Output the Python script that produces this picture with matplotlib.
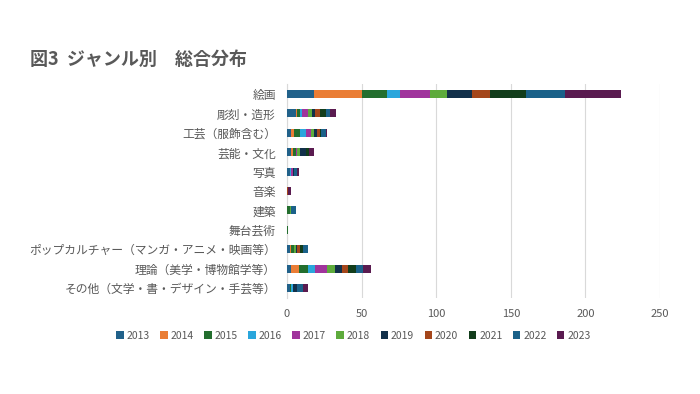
import matplotlib
matplotlib.use("Agg")
import matplotlib.pyplot as plt
import numpy as np

plt.rcParams['font.family'] = ['Noto Sans CJK JP', 'DejaVu Sans']

categories = ["絵画", "彫刻・造形", "工芸（服飾含む）", "芸能・文化", "写真", "音楽", "建築",
              "舞台芸術", "ポップカルチャー（マンガ・アニメ・映画等）", "理論（美学・博物館学等）",
              "その他（文学・書・デザイン・手芸等）"]
years = ["2013", "2014", "2015", "2016", "2017", "2018", "2019", "2020", "2021", "2022", "2023"]

# values per year, in category order
v2013 = [18, 6, 3, 3, 2, 0, 0, 0, 2, 3, 2]
v2014 = [32, 1, 2, 1, 0, 0, 0, 0, 1, 5, 0]
v2015 = [17, 2, 4, 2, 0, 0, 2, 1, 2, 6, 1]
v2016 = [9, 1, 4, 0, 1, 0, 0, 0, 0, 5, 1]
v2017 = [20, 4, 3, 1, 1, 0, 0, 0, 0, 8, 0]
v2018 = [11, 3, 2, 2, 0, 0, 1, 0, 1, 5, 0]
v2019 = [17, 2, 2, 4, 1, 0, 0, 0, 1, 5, 3]
v2020 = [12, 3, 2, 0, 0, 1, 0, 0, 2, 4, 0]
v2021 = [24, 4, 1, 2, 0, 0, 0, 0, 2, 5, 0]
v2022 = [26, 3, 3, 0, 2, 0, 3, 0, 3, 5, 4]
v2023 = [38, 4, 1, 3, 1, 2, 0, 0, 0, 5, 3]
series = [v2013, v2014, v2015, v2016, v2017, v2018, v2019, v2020, v2021, v2022, v2023]

colors = ["#21618a", "#ea7d35", "#236e2e", "#2aa6dc", "#a0349c", "#5eab3c",
          "#12304a", "#a4461b", "#123d1b", "#1a6189", "#5a1b50"]

fig = plt.figure(figsize=(7.0, 3.94), dpi=100)
ax = fig.add_axes([0.41, 0.2444, 0.533, 0.5416])

y = np.arange(len(categories))
left = np.zeros(len(categories))
for yr, vals, c in zip(years, series, colors):
    vals = np.array(vals, dtype=float)
    ax.barh(y, vals, left=left, height=0.42, color=c, label=yr, zorder=3)
    left += vals

ax.set_ylim(len(categories) - 0.5, -0.5)
ax.set_xlim(0, 250)
ax.set_xticks([0, 50, 100, 150, 200, 250])
ax.set_yticks(y)
ax.set_yticklabels(categories)
ax.grid(axis='x', color='#d9d9d9', linewidth=0.8, zorder=0)
for s in ['top', 'right', 'bottom']:
    ax.spines[s].set_visible(False)
ax.spines['left'].set_color('#d9d9d9')
ax.tick_params(axis='y', length=0, labelsize=8.5, colors='#595959', pad=8)
ax.tick_params(axis='x', length=0, labelsize=8, colors='#595959', pad=8)

fig.text(0.043, 0.848, "図3  ジャンル別　総合分布", fontsize=13, fontweight='bold',
         color='#595959', ha='left', va='center')

handles, labels = ax.get_legend_handles_labels()
fig.legend(handles, labels, loc='center', bbox_to_anchor=(0.505, 0.148), ncol=11,
           frameon=False, fontsize=7.5, labelcolor='#595959', handlelength=0.7,
           handleheight=0.7, handletextpad=0.3, columnspacing=1.0)

fig.savefig("out.png", dpi=100, facecolor='white')
